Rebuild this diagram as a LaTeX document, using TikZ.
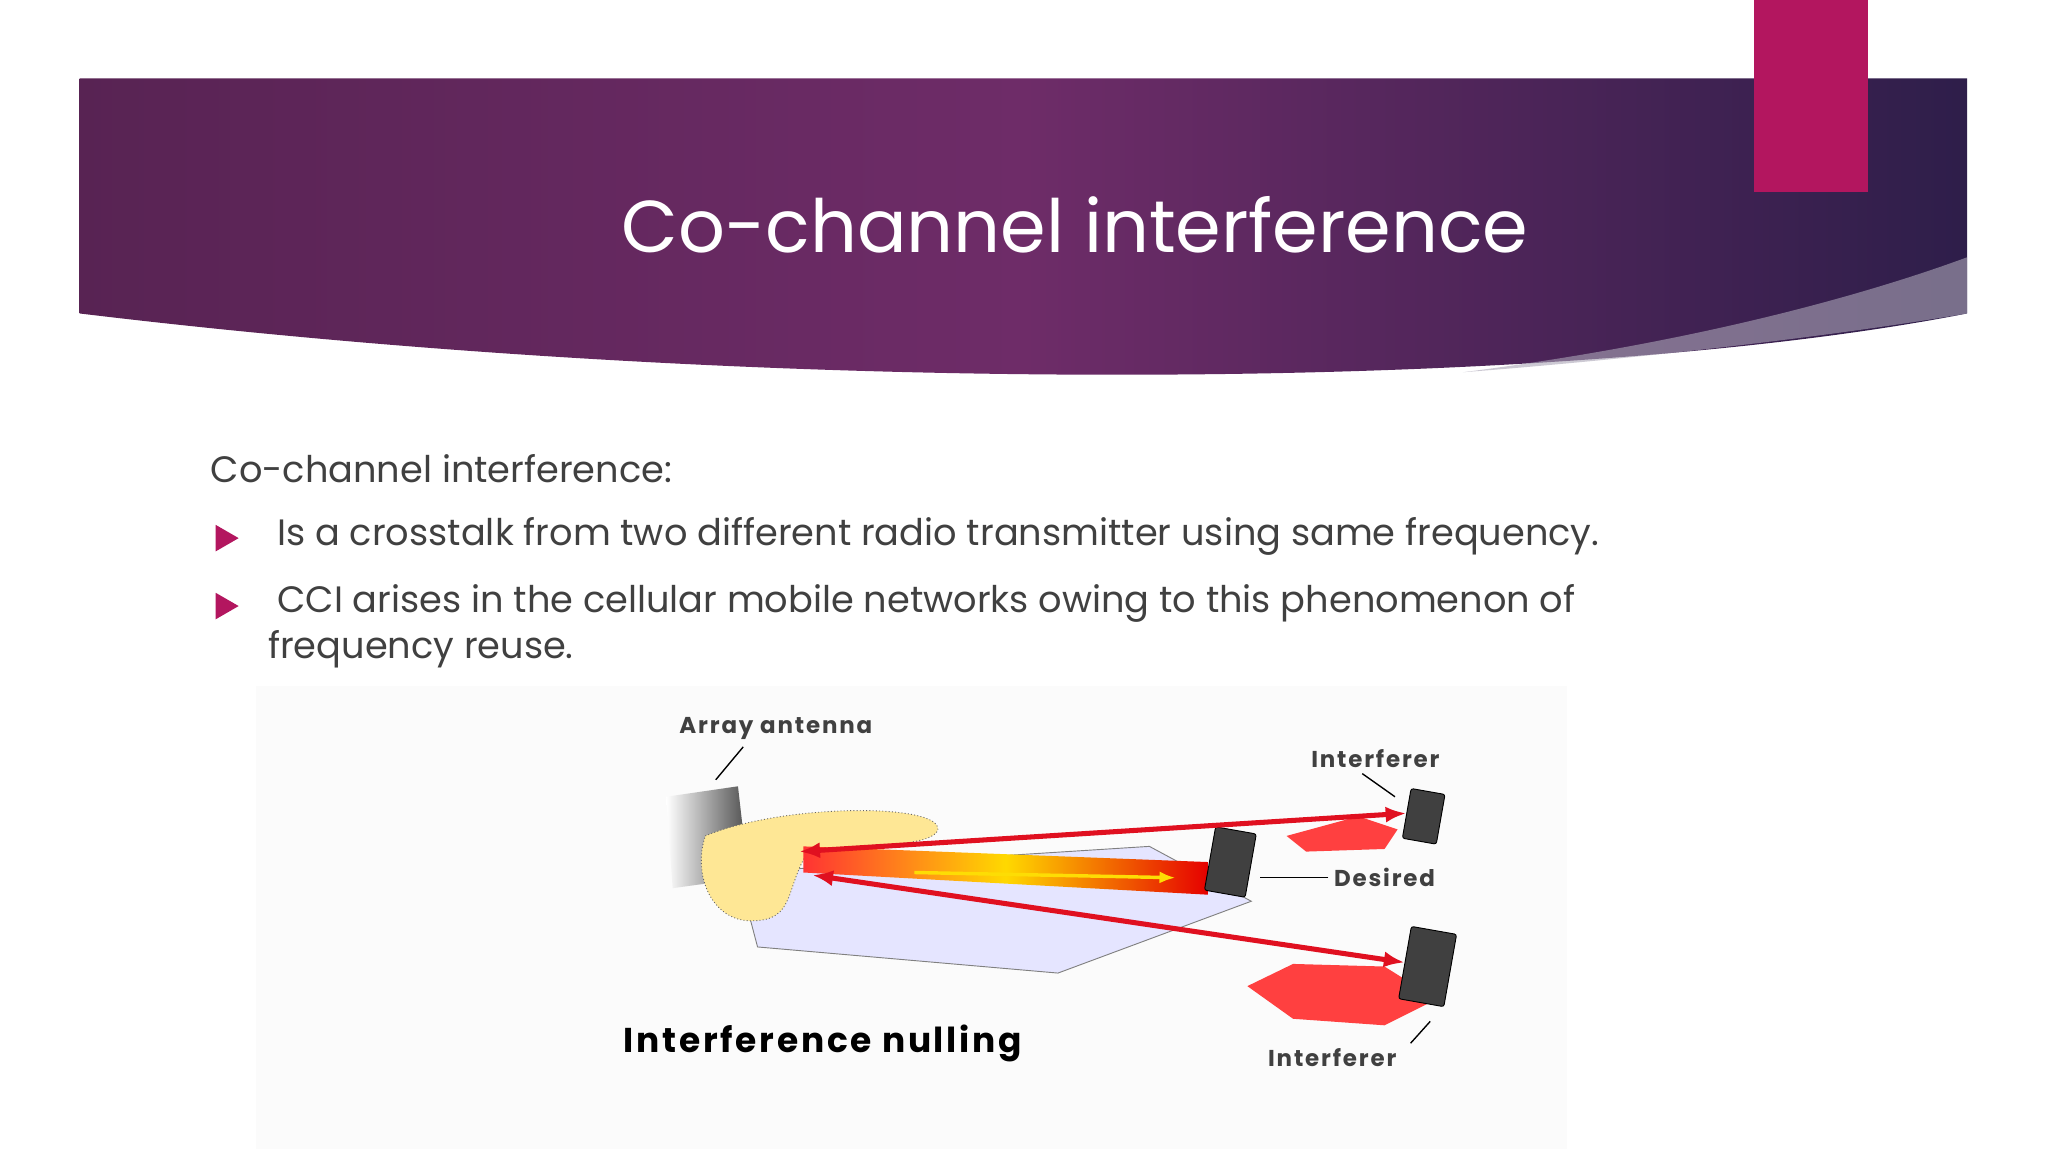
\documentclass[tikz,border=0pt]{standalone}
\usepackage{fontspec}
\setmainfont{Poppins}
\newfontfamily\widefont[LetterSpace=8]{Poppins}
\usetikzlibrary{arrows.meta,shadings,shapes.geometric}
\definecolor{hdrA}{HTML}{6E2C68}
\definecolor{hdrB}{HTML}{2E1E4A}
\definecolor{pinkbar}{HTML}{B3165F}
\definecolor{bulcol}{HTML}{B3165F}
\definecolor{txt}{HTML}{404040}
\definecolor{arrred}{HTML}{E01020}
\tikzset{
  body/.style={anchor=west,text=txt,font=\fontsize{16}{19}\selectfont,inner sep=0},
  bul/.style={fill=bulcol,isosceles triangle,isosceles triangle apex angle=60,inner sep=0,minimum size=10pt,anchor=center},
  lbl/.style={font=\widefont\fontsize{10}{12}\selectfont\bfseries,text=black!75,inner sep=0},
  redarr/.style={draw=arrred,line width=2.2pt,{Latex[length=9pt,width=7pt]}-{Latex[length=9pt,width=7pt]}},
  phone/.style={fill=black!75,draw=black,rounded corners=1pt},
  hexred/.style={fill=red!75!white,draw=none},
  tick/.style={draw=black,line width=0.6pt}
}
\begin{document}
\begin{tikzpicture}[x=0.02cm,y=-0.02cm]
\useasboundingbox (0,0) rectangle (1568,882);
\fill[white] (0,0) rectangle (1568,882);
% header
\shade[left color=hdrA!80!black,right color=hdrB,middle color=hdrA]
  (61,60) -- (1506,60) -- (1506,240) .. controls (1200,300) and (600,305) .. (61,240) -- cycle;
\fill[white!60!hdrB,opacity=0.6] (1506,197) -- (1506,240) .. controls (1400,258) and (1250,275) .. (1120,285) .. controls (1300,262) and (1430,225) .. (1506,197) -- cycle;
\fill[pinkbar] (1343,0) rectangle (1430,147);
\node[text=white,font=\fontsize{32}{38}\selectfont,inner sep=0] (title) at (823,172) {Co-channel interference};
% body
\node[body] (t0) at (161,359) {Co-channel interference:};
\node[bul] (b1) at (171,412) {};
\node[body] (t1) at (212,411) {Is a crosstalk from two different radio transmitter using same frequency.};
\node[bul] (b2) at (171,464) {};
\node[body] (t2) at (212,462) {CCI arises in the cellular mobile networks owing to this phenomenon of};
\node[body] (t3) at (205,497) {frequency reuse.};
% diagram
\fill[black!1.5] (196,525) rectangle (1200,880);
\filldraw[fill=blue!10!white,draw=black!50] (565,668) -- (880,648) -- (958,690) -- (810,745) -- (580,725) -- cycle;
\shade[left color=white,right color=black!70] (510,610) -- (565,602) -- (573,672) -- (515,680) -- cycle;
\fill[yellow!60!orange!40,draw=black!60,densely dotted] (540,640) .. controls (600,615) and (720,615) .. (718,635) .. controls (716,648) and (660,648) .. (620,650) .. controls (600,680) and (610,705) .. (575,705) .. controls (545,705) and (530,670) .. (540,640) -- cycle;
\shade[left color=red!80,right color=red!90!black,middle color=yellow!70!orange] (615,648) -- (925,660) -- (925,685) -- (615,668) -- cycle;
\fill[hexred] (985,640) -- (1040,625) -- (1070,635) -- (1060,650) -- (1000,652) -- cycle;
\fill[hexred] (955,755) -- (990,738) -- (1060,740) -- (1100,765) -- (1060,785) -- (990,780) -- cycle;
\node[phone,minimum width=15pt,minimum height=22pt,rotate=-10] (p1) at (1090,625) {};
\node[phone,minimum width=18pt,minimum height=28pt,rotate=-10] (p2) at (942,660) {};
\node[phone,minimum width=20pt,minimum height=32pt,rotate=-10] (p3) at (1093,740) {};
\coordinate (src1) at (612,652);
\coordinate (src2) at (622,670);
\draw[redarr] (src1) -- (p1.west);
\draw[redarr] (src2) -- (p3.west);
\draw[draw=yellow!80!orange,line width=1.5pt,-{Latex[length=7pt]}] (700,668) -- (900,672);
\node[lbl] (la) at (594,558) {Array antenna};
\node[lbl] (li1) at (1053,581) {Interferer};
\node[lbl,anchor=west] (ld) at (1021,672) {Desired};
\node[lbl] (li2) at (1020,810) {Interferer};
\node[font=\widefont\fontsize{15}{18}\selectfont\bfseries,inner sep=0] (ln) at (630,799) {Interference nulling};
\draw[tick] (la.south) ++(-25,5) -- (548,597);
\draw[tick] (li1.south) ++(-10,4) -- (1068,610);
\draw[tick] (ld.west) ++(-4,0) -- (965,672);
\draw[tick] (li2.north) ++(60,-4) -- (1095,782);
\end{tikzpicture}
\end{document}
